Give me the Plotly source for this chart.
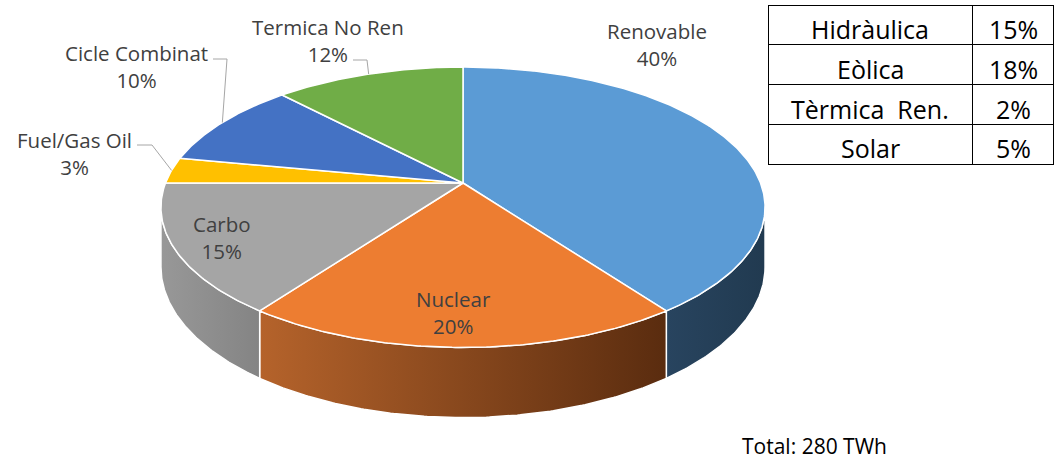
import numpy as np
import plotly.graph_objects as go

# ---------------- data ----------------
categories = ["Renovable", "Nuclear", "Carbo", "Fuel/Gas Oil", "Cicle Combinat", "Termica No Ren"]
shares = [40, 20, 15, 3, 10, 12]
total_twh = 280

renew_parts = ["Hidràulica", "Eòlica", "Tèrmica\u00a0 Ren.", "Solar"]
renew_shares = [15, 18, 2, 5]

# ---------------- styles ----------------
top_colors = ["#5B9BD5", "#ED7D31", "#A5A5A5", "#FFC000", "#4472C4", "#70AD47"]
side_colors = [("#28445F", "#213A50"), ("#B5632B", "#5A2C0F"), ("#989898", "#848484"),
               ("#C99700", "#C99700"), ("#30548F", "#30548F"), ("#53833A", "#53833A")]
LABEL_FONT = dict(family="Open Sans", size=20.5, color="#404040")
TABLE_FONT = dict(family="Open Sans", size=25, color="black")

# projection geometry (pixel space)
CX, CY = 463.0, 183.0
A, B, K, H = 297.5, 136.0, 0.173, 58.0
VIS = (100.0, 260.0)  # visible arc of the side wall


def proj(theta_deg, drop=0.0):
    t = np.radians(theta_deg)
    u, v = np.sin(t), np.cos(t)
    s = 1 + K * v
    return CX + A * u / s, CY - B * v / s + drop / s


def arc(a, b, drop=0.0):
    n = max(int(abs(b - a) * 2) + 2, 4)
    th = np.linspace(a, b, n)
    x, y = proj(th, drop)
    return list(x), list(y)


fig = go.Figure()

bounds = np.concatenate([[0], np.cumsum(shares)]) * 3.6

# side walls
for i in range(len(shares)):
    a, b = max(bounds[i], VIS[0]), min(bounds[i + 1], VIS[1])
    if b <= a:
        continue
    xt, yt = arc(a, b)
    xb, yb = arc(b, a, drop=H)
    c0, c1 = side_colors[i]
    fig.add_trace(go.Scatter(
        x=xt + xb + [xt[0]], y=yt + yb + [yt[0]], mode="lines", fill="toself",
        fillgradient=dict(type="horizontal", colorscale=[[0, c0], [1, c1]]),
        line=dict(color="white", width=1.5), hoverinfo="skip"))

# top faces
for i in range(len(shares)):
    xa, ya = arc(bounds[i], bounds[i + 1])
    fig.add_trace(go.Scatter(
        x=[CX] + xa + [CX], y=[CY] + ya + [CY], mode="lines", fill="toself",
        fillcolor=top_colors[i], line=dict(color="white", width=1.5), hoverinfo="skip"))

# labels
label_pos = {"Renovable": (657, 44), "Nuclear": (453, 312), "Carbo": (222, 237),
             "Fuel/Gas Oil": (74, 153), "Cicle Combinat": (136, 66), "Termica No Ren": (328, 40)}
leader_start = {"Fuel/Gas Oil": [(137, 145), (152, 145)],
                "Cicle Combinat": [(213, 59), (227, 59)],
                "Termica No Ren": [(353, 60), (367, 60)]}
for i, name in enumerate(categories):
    x, y = label_pos[name]
    fig.add_annotation(x=x, y=y, text=f"{name}<br>{shares[i]}%", showarrow=False,
                       font=LABEL_FONT, xanchor="center", yanchor="middle")
    if name in leader_start:
        mid = (bounds[i] + bounds[i + 1]) / 2
        ex, ey = proj(mid)
        pts = leader_start[name] + [(ex, ey)]
        fig.add_trace(go.Scatter(x=[p[0] for p in pts], y=[p[1] for p in pts], mode="lines",
                                 line=dict(color="#A6A6A6", width=1), hoverinfo="skip"))

fig.add_annotation(x=814, y=446, text=f"Total: {total_twh} TWh", showarrow=False,
                   font=dict(family="Open Sans", size=21, color="black"),
                   xanchor="center", yanchor="middle")

# renewables breakdown table (grid drawn by go.Table, text centred in each cell)
W, Hh = 1056, 459
T_X0, T_X1, T_Y0, ROW_H = 768, 1052, 5, 39.75
COL_W = [204, 80]
n_rows = len(renew_parts)
fig.add_trace(go.Table(
    domain=dict(x=[T_X0 / W, (T_X1 + 1) / W],
                y=[1 - (T_Y0 + n_rows * ROW_H + 4) / Hh, 1 - T_Y0 / Hh]),
    columnwidth=COL_W,
    header=dict(values=["", ""], height=ROW_H, line=dict(color="black", width=1),
                fill=dict(color="white")),
    cells=dict(values=[[""] * (n_rows - 1), [""] * (n_rows - 1)], height=ROW_H,
               line=dict(color="black", width=1), fill=dict(color="white")),
))
col_centers = [T_X0 + COL_W[0] / 2, T_X0 + COL_W[0] + COL_W[1] / 2 + 1]
for r, (name, val) in enumerate(zip(renew_parts, renew_shares)):
    yc = T_Y0 + r * ROW_H + 24
    fig.add_annotation(x=col_centers[0], y=yc, text=name, showarrow=False, font=TABLE_FONT,
                       xanchor="center", yanchor="middle")
    fig.add_annotation(x=col_centers[1], y=yc, text=f"{val}%", showarrow=False, font=TABLE_FONT,
                       xanchor="center", yanchor="middle")

fig.update_layout(
    width=W, height=Hh, margin=dict(l=0, r=0, t=0, b=0),
    paper_bgcolor="white", plot_bgcolor="white", showlegend=False,
    xaxis=dict(range=[0, W], visible=False, fixedrange=True),
    yaxis=dict(range=[Hh, 0], visible=False, fixedrange=True),
)

fig.write_html("out.html", config={"displayModeBar": False},
               post_script="document.body.style.margin='0';")
